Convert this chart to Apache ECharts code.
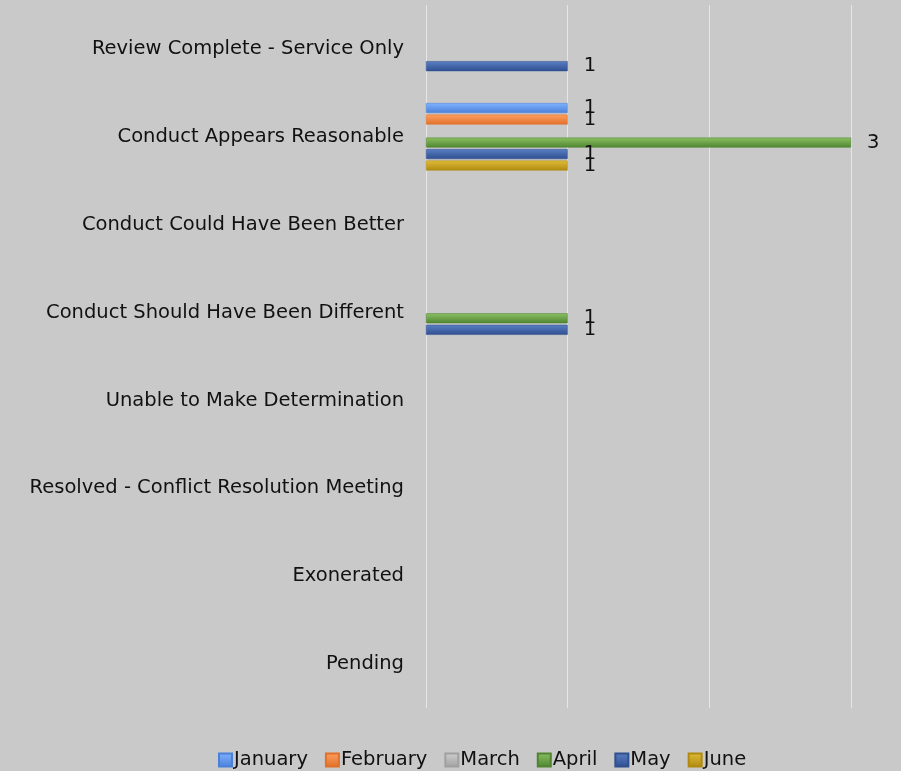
<!DOCTYPE html>
<html><head><meta charset="utf-8">
<script src="https://cdn.jsdelivr.net/npm/echarts@6/dist/echarts.min.js"></script>
<style>html,body{margin:0;padding:0;background:#c9c9c9;}#c{width:901px;height:771px;}</style>
</head><body><div id="c"></div>
<script>
const categories = ["Review Complete - Service Only","Conduct Appears Reasonable","Conduct Could Have Been Better","Conduct Should Have Been Different","Unable to Make Determination","Resolved - Conflict Resolution Meeting","Exonerated","Pending"];
const seriesNames = ["January","February","March","April","May","June"];
const january  = [null,1,null,null,null,null,null,null];
const february = [null,1,null,null,null,null,null,null];
const march    = [null,null,null,null,null,null,null,null];
const april    = [null,3,null,1,null,null,null,null];
const may      = [1,1,null,1,null,null,null,null];
const june     = [null,1,null,null,null,null,null,null];
const values = [january,february,march,april,may,june];
const colors = [["#7fb2ff","#4a80d8"],["#ffa060","#e0702a"],["#d0d0d0","#a0a0a0"],["#8cc064","#4f8530"],["#5b7fc4","#2e4f90"],["#e0bc38","#b08a10"]];
const font = "'DejaVu Sans', sans-serif";
const chart = echarts.init(document.getElementById('c'));
chart.setOption({
  backgroundColor:'#c9c9c9',
  animation:false,
  grid:{left:426,right:50,top:5,bottom:63},
  xAxis:{type:'value',min:0,max:3,interval:1,axisLabel:{show:false},axisLine:{show:false},axisTick:{show:false},
    splitLine:{show:true,lineStyle:{color:'#e6e6e6',width:1}}},
  yAxis:{type:'category',data:categories,inverse:true,axisLine:{show:false},axisTick:{show:false},
    axisLabel:{margin:22,fontSize:19.5,color:'#111',fontFamily:font}},
  legend:{top:745,left:213,itemWidth:13,itemHeight:13,itemGap:17,icon:'rect',
    textStyle:{fontSize:19.5,color:'#111',fontFamily:font,padding:[0,0,0,-3]},data:seriesNames},
  series: seriesNames.map((n,i)=>({
    name:n,type:'bar',data:values[i],barWidth:10,barGap:'15%',
    itemStyle:{color:new echarts.graphic.LinearGradient(0,0,0,1,[{offset:0,color:colors[i][0]},{offset:1,color:colors[i][1]}]),
      borderColor:colors[i][1],borderWidth:0.5},
    label:{show:true,position:'right',distance:16,fontSize:19.5,color:'#111',fontFamily:font}
  }))
});
</script></body></html>
